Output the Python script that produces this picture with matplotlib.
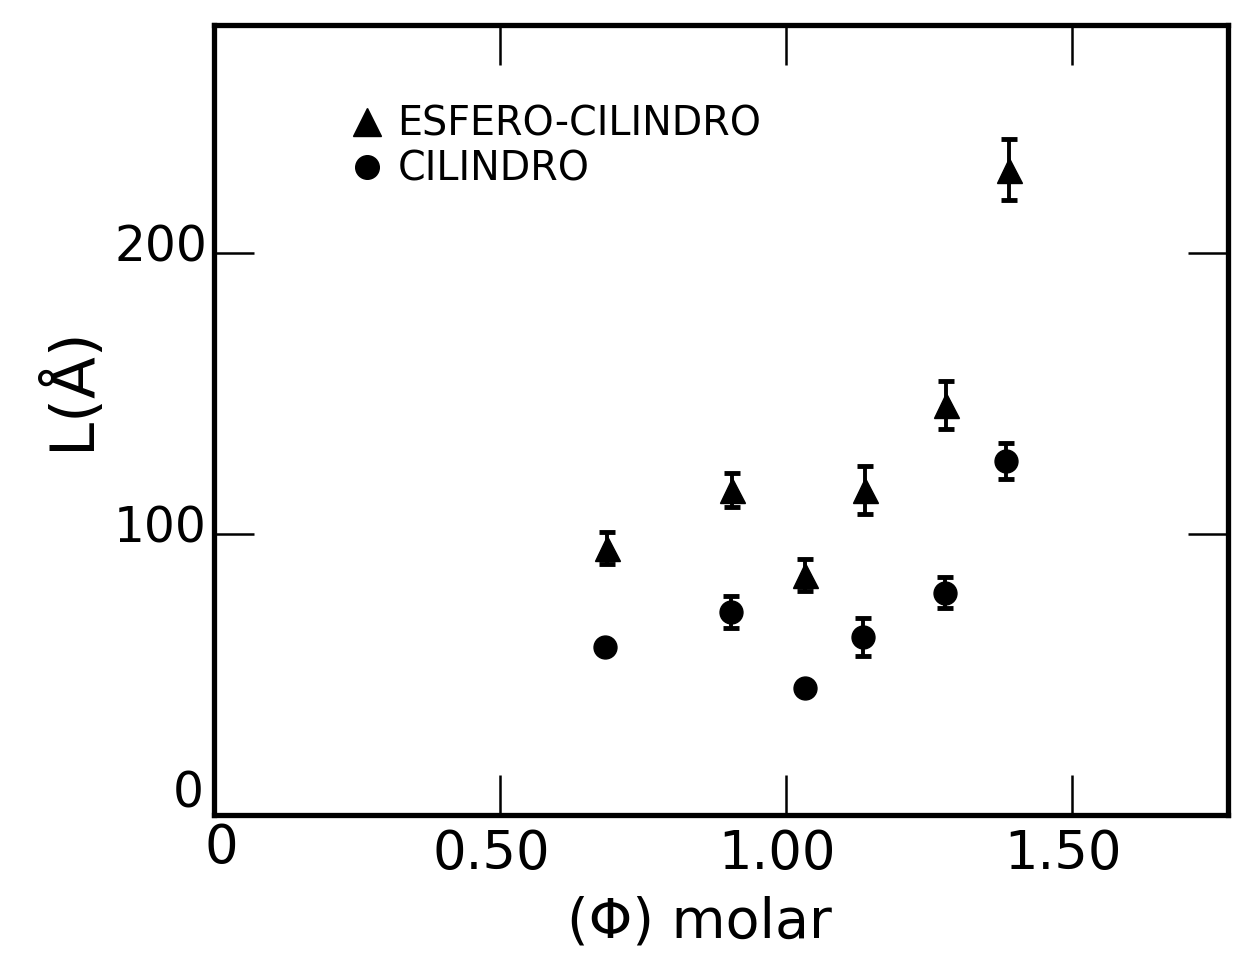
import matplotlib
matplotlib.use("Agg")
import matplotlib.pyplot as plt
from matplotlib.lines import Line2D
from matplotlib.transforms import ScaledTranslation

# Esfero-cilindro (triangulos)
phi_esf = [0.687, 0.905, 1.033, 1.137, 1.280, 1.389]
L_esf = [95.0, 115.6, 85.4, 115.6, 145.9, 229.5]
err_esf = [5.7, 5.9, 5.7, 8.4, 8.5, 10.9]

# Cilindro (circulos)
phi_cil = [0.683, 0.903, 1.032, 1.134, 1.278, 1.384]
L_cil = [59.8, 72.2, 45.2, 63.3, 79.0, 125.9]
err_cil = [0.0, 5.7, 0.0, 6.9, 5.5, 6.4]

xticks = [0, 0.5, 1.0, 1.5]
xtick_labels = ["0", "0.50", "1.00", "1.50"]
yticks = [0, 100, 200]
ytick_labels = ["0", "100", "200"]

plt.rcParams["font.family"] = ["DejaVu Sans"]

fig = plt.figure(figsize=(12.41, 9.55), dpi=100)
ax = fig.add_axes([214 / 1241, 1 - 815 / 955, 1014 / 1241, 790 / 955])

ax.errorbar(phi_esf, L_esf, yerr=err_esf, fmt="^", color="black", ms=18,
            elinewidth=2.8, capsize=6, capthick=3.5)
ax.errorbar(phi_cil, L_cil, yerr=err_cil, fmt="o", color="black", ms=16.5,
            elinewidth=2.8, capsize=6, capthick=3.5)

ax.set_xlim(0, 1.772)
ax.set_ylim(0, 281)
ax.set_xticks(xticks)
ax.set_xticklabels(xtick_labels)
ax.set_yticks(yticks)
ax.set_yticklabels(ytick_labels)

for s in ax.spines.values():
    s.set_linewidth(3.8)
ax.tick_params(direction="in", length=29, width=1.8, top=True, right=True)
ax.tick_params(axis="x", labelsize=38, pad=9)
ax.tick_params(axis="y", labelsize=35, pad=5)

ax.set_xlabel("(Φ) molar", fontsize=40)
ax.set_ylabel("L(Å)", fontsize=44)
ax.xaxis.set_label_coords(0.479, -0.102)
ax.yaxis.set_label_coords(-0.11, 0.54)

handles = [
    Line2D([], [], marker="^", color="black", ls="none", ms=20),
    Line2D([], [], marker="o", color="black", ls="none", ms=17),
]
ax.legend(handles, ["ESFERO-CILINDRO", "CILINDRO"], loc="upper left",
          bbox_to_anchor=(0.131, 0.899), frameon=False, fontsize=28.5,
          handletextpad=0.28, labelspacing=0.13, handlelength=1.0,
          borderpad=0, borderaxespad=0)

# tick labels of the scan sit a bit off the straight axes
dpi_tr = fig.dpi_scale_trans
for i, lab in enumerate(ax.get_xticklabels()):
    dx, dy = (0.07, 0.05) if i == 0 else (-0.09, 0.0)
    lab.set_transform(lab.get_transform() + ScaledTranslation(dx, dy, dpi_tr))
for i, lab in enumerate(ax.get_yticklabels()):
    dx, dy = (-0.03, 0.27) if i == 0 else (0.0, 0.10)
    lab.set_transform(lab.get_transform() + ScaledTranslation(dx, dy, dpi_tr))

fig.savefig("out.png", dpi=100)
